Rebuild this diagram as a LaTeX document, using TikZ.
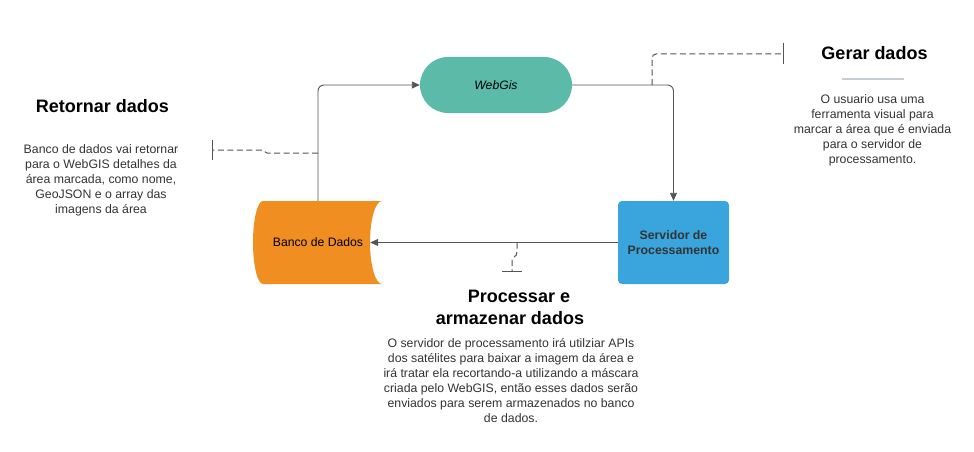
\documentclass[tikz,border=0pt]{standalone}
\usepackage{fontspec}
\setmainfont{Liberation Sans}
\usetikzlibrary{arrows.meta,backgrounds}
\definecolor{webc}{HTML}{5CBAA8}
\definecolor{dbc}{HTML}{F08E22}
\definecolor{srvc}{HTML}{3AA5DC}
\definecolor{lineg}{HTML}{555555}
\definecolor{bodyc}{HTML}{333333}
\definecolor{sepc}{HTML}{C5CAD3}
\begin{document}
\begin{tikzpicture}[x=1pt,y=-1pt,
  conn/.style={draw=lineg, line width=0.9pt, rounded corners=6pt, -{Triangle[length=8pt,width=7pt]}},
  note/.style={draw=lineg, line width=1pt, dash pattern=on 6pt off 3.5pt},
  tickmark/.style={draw=lineg, line width=1pt},
  head/.style={font=\fontsize{18}{22}\selectfont\bfseries, align=center, inner sep=0pt},
  body/.style={font=\fontsize{12.3}{15}\selectfont, text=bodyc, align=center, inner sep=0pt},
  nodetext/.style={font=\fontsize{12.2}{15}\selectfont, align=center, inner sep=0pt}]
\useasboundingbox (0,0) rectangle (974,452);

% nodes
\node[nodetext, fill=webc, rounded corners=28pt, minimum width=152pt, minimum height=56pt]
  (web) at (496,85) {\itshape WebGis};
\node[nodetext, minimum width=104pt, minimum height=83pt] (db) at (318,242.5) {Banco de Dados};
\node[nodetext, fill=srvc, rounded corners=4pt, minimum width=111pt, minimum height=83pt, text=bodyc, font=\fontsize{12.3}{15}\selectfont\bfseries]
  (srv) at (673.5,242.5) {Servidor de\\Processamento};

\begin{scope}[on background layer]
\fill[dbc] (263,201) .. controls (257.5,201) and (253,219.6) .. (253,242.5)
  .. controls (253,265.4) and (257.5,284) .. (263,284) -- (382,284)
  .. controls (375.4,284) and (370,265.4) .. (370,242.5)
  .. controls (370,219.6) and (375.4,201) .. (382,201) -- cycle;
\end{scope}

% connectors
\draw[conn] (db.north) |- (web.west);
\draw[conn] (web.east) -| (srv.north);
\draw[conn] (srv.west) -- (db.east);

% annotation: Gerar dados
\coordinate (g0) at (652,85);
\coordinate (gt) at (783,54);
\coordinate (gta) at (783,43);
\coordinate (gtb) at (783,64);
\draw[note, rounded corners=4pt] (g0) |- (gt);
\draw[tickmark] (gta) -- (gtb);

% annotation: Retornar dados
\coordinate (r0) at (318,153);
\coordinate (rt) at (212,150);
\coordinate (rta) at (212,140);
\coordinate (rtb) at (212,160);
\draw[note] (r0) -- (267,153) .. controls (265,153) and (264,150) .. (262,150) -- (rt);
\draw[tickmark] (rta) -- (rtb);

% annotation: Processar
\coordinate (p0) at (517,242.5);
\coordinate (pt) at (512,271);
\coordinate (pta) at (502,271);
\coordinate (ptb) at (522,271);
\draw[note] (p0) -- (517,252) .. controls (517,258) and (512,255) .. (512,262) -- (pt);
\draw[tickmark] (pta) -- (ptb);

% texts
\node[head] (gh) at (874.5,53) {Gerar dados};
\coordinate (sepa) at (842,79);
\coordinate (sepb) at (904,79);
\draw[sepc, line width=1.2pt] (sepa) -- (sepb);
\node[body] (gb) at (872.5,130) {O usuario usa uma\\ferramenta visual para\\marcar a área que é enviada\\para o servidor de\\processamento.};

\node[head] (rh) at (102.5,106) {Retornar dados};
\node[body] (rb) at (101,180) {Banco de dados vai retornar\\para o WebGIS detalhes da\\área marcada, como nome,\\GeoJSON e o array das\\imagens da área};

\node[head] (ph) at (510,307.5) {\hspace*{18pt}Processar e\\armazenar dados};
\node[body] (pb) at (511,381) {O servidor de processamento irá utilziar APIs\\dos satélites para baixar a imagem da área e\\irá tratar ela recortando-a utilizando a máscara\\criada pelo WebGIS, então esses dados serão\\enviados para serem armazenados no banco\\de dados.};
\end{tikzpicture}
\end{document}
